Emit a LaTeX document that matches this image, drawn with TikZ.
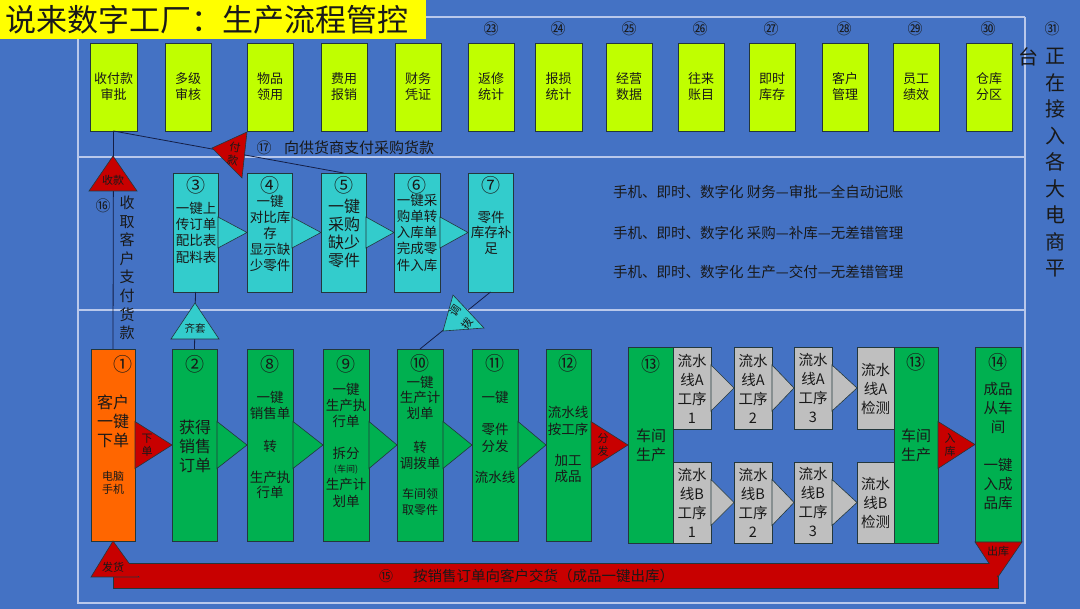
\documentclass[tikz,border=0pt]{standalone}
\usepackage{fontspec}
\setmainfont{Noto Sans CJK SC}
\definecolor{bg}{RGB}{68,114,196}
\definecolor{frm}{RGB}{185,200,235}
\definecolor{ygr}{RGB}{192,255,0}
\definecolor{cy}{RGB}{51,204,204}
\definecolor{gr}{RGB}{0,176,80}
\definecolor{org}{RGB}{255,102,0}
\definecolor{rd}{RGB}{200,0,0}
\definecolor{gy}{RGB}{191,191,191}
\definecolor{bdr}{RGB}{35,55,60}
\definecolor{ink}{RGB}{25,25,25}
\definecolor{ln}{RGB}{20,30,70}
\definecolor{ttl}{RGB}{255,255,0}
\newcommand\fs[2]{\fontsize{#1}{#2}\selectfont}
\newcommand\bx[6]{\node[box,fill=#2,minimum width={#5-#3},minimum height={#6-#4}] (#1) at (#3,#4) {};}
\newcommand\arr[4]{\filldraw[fill=#4,draw=bdr,line width=0.6pt] ([yshift=#3]#1.east) -- (#2.west) -- ([yshift=-#3]#1.east) -- cycle;}
\begin{document}
\begin{tikzpicture}[x=1pt,y=-1pt,
  box/.style={draw=bdr,line width=0.7pt,anchor=north west,inner sep=0pt,outer sep=0pt},
  t/.style={inner sep=0pt,align=center,text=ink},
  frame/.style={draw=frm,line width=1.2pt},
  conn/.style={draw=ln,line width=0.8pt},
  tri/.style={draw=bdr,line width=0.6pt}]
\useasboundingbox (0,0) rectangle (1080,609);
\fill[bg] (0,0) rectangle (1080,609);
% frame lines
\draw[frame] (426,17) -- (1025,17);
\draw[frame] (78,39) -- (78,603) -- (1025,603) -- (1025,17);
\draw[frame] (78,157) -- (1025,157);
\draw[frame] (78,310) -- (1025,310);
% title
\node[fill=ttl,anchor=north west,minimum width=426,minimum height=39,inner sep=0pt] (titlebox) at (0,0) {};
\node[t,anchor=west,font=\fs{31}{31}] (title) at (5,20) {说来数字工厂：生产流程管控};
% top boxes
\bx{y1}{ygr}{90}{43}{137}{131}
\bx{y2}{ygr}{165}{43}{211}{131}
\bx{y3}{ygr}{247}{43}{293}{131}
\bx{y4}{ygr}{321}{43}{367}{131}
\bx{y5}{ygr}{395}{43}{441}{131}
\bx{y6}{ygr}{468}{43}{514}{131}
\bx{y7}{ygr}{535}{43}{582}{131}
\bx{y8}{ygr}{606}{43}{652}{131}
\bx{y9}{ygr}{678}{43}{724}{131}
\bx{y10}{ygr}{749}{43}{795}{131}
\bx{y11}{ygr}{822}{43}{868}{131}
\bx{y12}{ygr}{893}{43}{939}{131}
\bx{y13}{ygr}{966}{43}{1012}{131}
\tikzset{tt/.style={t,font=\fs{13}{16}}}
\node[tt] (ly1) at (y1) {收付款\\审批};
\node[tt] (ly2) at (y2) {多级\\审核};
\node[tt] (ly3) at (y3) {物品\\领用};
\node[tt] (ly4) at (y4) {费用\\报销};
\node[tt] (ly5) at (y5) {财务\\凭证};
\node[tt] (ly6) at (y6) {返修\\统计};
\node[tt] (ly7) at (y7) {报损\\统计};
\node[tt] (ly8) at (y8) {经营\\数据};
\node[tt] (ly9) at (y9) {往来\\账目};
\node[tt] (ly10) at (y10) {即时\\库存};
\node[tt] (ly11) at (y11) {客户\\管理};
\node[tt] (ly12) at (y12) {员工\\绩效};
\node[tt] (ly13) at (y13) {仓库\\分区};
\tikzset{nt/.style={t,font=\fs{15}{15}}}
\node[nt] (n23) at (491,29) {㉓};
\node[nt] (n24) at (558,29) {㉔};
\node[nt] (n25) at (629,29) {㉕};
\node[nt] (n26) at (700,29) {㉖};
\node[nt] (n27) at (771,29) {㉗};
\node[nt] (n28) at (844,29) {㉘};
\node[nt] (n29) at (915,29) {㉙};
\node[nt] (n30) at (988,29) {㉚};
\node[nt] (n31) at (1052,29) {㉛};
\node[t,font=\fs{20}{26.5}] (rv) at (1055,163) {正\\在\\接\\入\\各\\大\\电\\商\\平};
\node[t,font=\fs{20}{20}] (rv2) at (1028,57) {台};
% middle cyan boxes
\bx{c3}{cy}{173}{173}{218}{292}
\bx{c4}{cy}{247}{173}{292}{292}
\bx{c5}{cy}{321}{173}{366}{292}
\bx{c6}{cy}{394}{173}{440}{292}
\bx{c7}{cy}{468}{173}{513}{292}
% bottom boxes
\bx{b1}{org}{91}{349}{135}{541}
\bx{b2}{gr}{172}{349}{217}{541}
\bx{b8}{gr}{247}{349}{293}{541}
\bx{b9}{gr}{323}{349}{369}{541}
\bx{b10}{gr}{397}{349}{443}{541}
\bx{b11}{gr}{472}{349}{518}{541}
\bx{b12}{gr}{546}{349}{591}{541}
\bx{b13}{gr}{628}{347}{673}{543}
\bx{ga1}{gy}{673}{347}{711}{429}
\bx{ga2}{gy}{734}{347}{772}{429}
\bx{ga3}{gy}{794}{347}{832}{429}
\bx{ga4}{gy}{857}{347}{894}{429}
\bx{gb1}{gy}{673}{462}{711}{543}
\bx{gb2}{gy}{734}{462}{772}{543}
\bx{gb3}{gy}{794}{462}{832}{543}
\bx{gb4}{gy}{857}{462}{894}{543}
\bx{b13r}{gr}{894}{347}{938}{543}
\bx{b14}{gr}{975}{347}{1021}{542}
% connectors
\draw[conn] (y1.south) -- (b1.north);
\draw[conn] (y1.south) -- (c5.north);
\draw[conn] (c3.south) -- (b2.north);
\draw[conn] (c7.south) -- (420,349);
% arrow triangles
\arr{c3}{c4}{15.5}{cy}
\arr{c4}{c5}{15.5}{cy}
\arr{c5}{c6}{15.5}{cy}
\arr{c6}{c7}{15.5}{cy}
\arr{b1}{b2}{23.5}{rd}
\arr{b2}{b8}{23.5}{gr}
\arr{b8}{b9}{23.5}{gr}
\arr{b9}{b10}{23.5}{gr}
\arr{b10}{b11}{23.5}{gr}
\arr{b11}{b12}{23.5}{gr}
\arr{b12}{b13}{23.5}{rd}
\arr{b13r}{b14}{23.5}{rd}
\arr{ga1}{ga2}{23}{gy}
\arr{ga2}{ga3}{23}{gy}
\arr{ga3}{ga4}{23}{gy}
\arr{gb1}{gb2}{23}{gy}
\arr{gb2}{gb3}{23}{gy}
\arr{gb3}{gb4}{23}{gy}
% labelled triangles
\filldraw[tri,fill=rd] (113,156) -- (137,191) -- (89,191) -- cycle;
\filldraw[tri,fill=rd] (212,148) -- (247,132) -- (242,178) -- cycle;
\filldraw[tri,fill=cy] (195,303) -- (219,339) -- (171,339) -- cycle;
\filldraw[tri,fill=cy] (453,295) -- (484,328) -- (443,331) -- cycle;
\filldraw[tri,fill=rd] (113,563) rectangle (998,588);
\filldraw[tri,fill=rd] (b1.south) -- (139,577) -- (91,577) -- cycle;
\filldraw[tri,fill=rd] (975,542) -- (1022,542) -- (998,577) -- cycle;
\fill[rd] (114,564) rectangle (997,576);
\tikzset{sm/.style={t,font=\fs{11}{13}}}
\node[sm] (tk1) at (113,180) {收款};
\node[sm,rotate=-10] (tk2) at (234,154) {付\\款};
\node[t,font=\fs{10.5}{10.5}] (tk3) at (195,328) {齐套};
\node[sm,rotate=55] (tk4a) at (455,311) {调};
\node[sm,rotate=55] (tk4b) at (467,324) {拨};
\node[sm] (tk5) at (147,445) {下\\单};
\node[sm] (tk6) at (603,445) {分\\发};
\node[sm] (tk7) at (950,445) {入\\库};
\node[sm] (tk8) at (113,567) {发货};
\node[sm] (tk9) at (998,551) {出库};
% side labels
\node[t,font=\fs{15}{15}] (n16) at (103,206) {⑯};
\node[t,font=\fs{15}{18.6}] (l16) at (127,268) {收\\取\\客\\户\\支\\付\\货\\款};
\node[t,font=\fs{15}{15}] (n17) at (264,148) {⑰};
\node[t,anchor=west,font=\fs{15}{15}] (l17) at (284,148) {向供货商支付采购货款};
\node[t,font=\fs{14}{14}] (n15) at (386,576) {⑮};
\node[t,anchor=west,font=\fs{14.5}{14.5}] (l15) at (413,576) {按销售订单向客户交货（成品一键出库）};
\tikzset{mt/.style={t,anchor=west,font=\fs{14.5}{14.5}}}
\node[mt] (m1) at (613,192) {手机、即时、数字化 财务—审批—全自动记账};
\node[mt] (m2) at (613,233) {手机、即时、数字化 采购—补库—无差错管理};
\node[mt] (m3) at (613,272) {手机、即时、数字化 生产—交付—无差错管理};
% cyan box texts
\tikzset{cn/.style={t,font=\fs{19}{19}}}
\node[cn] (nc3) at (196,185) {③};
\node[cn] (nc4) at (270,185) {④};
\node[cn] (nc5) at (344,185) {⑤};
\node[cn] (nc6) at (417,185) {⑥};
\node[cn] (nc7) at (491,185) {⑦};
\node[t,font=\fs{13.5}{16.3}] (tc3) at (196,232.5) {一键上\\传订单\\配比表\\配料表};
\node[t,font=\fs{13.5}{16}] (tc4) at (270,233) {一键\\对比库\\存\\显示缺\\少零件};
\node[t,font=\fs{16}{18.3}] (tc5) at (344,233.5) {一键\\采购\\缺少\\零件};
\node[t,font=\fs{13.5}{16.2}] (tc6) at (417,232.5) {一键采\\购单转\\入库单\\完成零\\件入库};
\node[t,font=\fs{13.5}{15.5}] (tc7) at (491,232.5) {零件\\库存补\\足};
% bottom box texts
\node[cn] (nb1) at (123,364) {①};
\node[cn] (nb2) at (195,364) {②};
\node[cn] (nb8) at (270,364) {⑧};
\node[cn] (nb9) at (346,364) {⑨};
\node[cn] (nb10) at (420,363) {⑩};
\node[cn] (nb11) at (495,363) {⑪};
\node[cn] (nb12) at (568,363) {⑫};
\node[cn] (nb13) at (651,364) {⑬};
\node[cn] (nb13r) at (916,362) {⑬};
\node[cn] (nb14) at (998,362) {⑭};
\node[t,font=\fs{16}{19}] (tb1) at (113,421) {客户\\一键\\下单};
\node[t,font=\fs{11}{13}] (tb1s) at (113,483) {电脑\\手机};
\node[t,font=\fs{16}{19}] (tb2) at (195,446) {获得\\销售\\订单};
\node[t,font=\fs{13.5}{15.5}] (tb8) at (270,445) {一键\\销售单\\[18pt]转\\[15pt]生产执\\行单};
\node[t,font=\fs{13.5}{16}] (tb9a) at (346,405) {一键\\生产执\\行单};
\node[t,font=\fs{13.5}{16}] (tb9b) at (346,453) {拆分};
\node[t,font=\fs{9}{9}] (tb9c) at (346,469.5) {(车间)};
\node[t,font=\fs{13.5}{16.5}] (tb9d) at (346,493) {生产计\\划单};
\node[t,font=\fs{13.5}{15.5}] (tb10a) at (420,397.5) {一键\\生产计\\划单};
\node[t,font=\fs{13.5}{16}] (tb10b) at (420,455) {转\\调拨单};
\node[t,font=\fs{12}{16}] (tb10c) at (420,502) {车间领\\取零件};
\node[t,font=\fs{13.5}{16}] (tb11a) at (495,397) {一键};
\node[t,font=\fs{13.5}{17}] (tb11b) at (495,437.5) {零件\\分发};
\node[t,font=\fs{13.5}{16}] (tb11c) at (495,477) {流水线};
\node[t,font=\fs{13.5}{17}] (tb12a) at (568,420.5) {流水线\\按工序};
\node[t,font=\fs{13.5}{16}] (tb12b) at (568,469) {加工\\成品};
\node[t,font=\fs{15}{19}] (tb13) at (651,445.5) {车间\\生产};
\node[t,font=\fs{15}{19}] (tb13r) at (916,445.5) {车间\\生产};
\node[t,font=\fs{14.5}{19}] (tb14a) at (998,408) {成品\\从车\\间};
\node[t,font=\fs{14.5}{19}] (tb14b) at (998,484) {一键\\入成\\品库};
% gray box texts
\tikzset{gt/.style={t,font=\fs{14.5}{19}}}
\node[gt] (tga1) at (692,388.5) {流水\\线A\\工序\\1};
\node[gt] (tga2) at (753,388.5) {流水\\线A\\工序\\2};
\node[gt] (tga3) at (813,388.5) {流水\\线A\\工序\\3};
\node[gt] (tga4) at (875.5,389) {流水\\线A\\检测};
\node[gt] (tgb1) at (692,502.5) {流水\\线B\\工序\\1};
\node[gt] (tgb2) at (753,502.5) {流水\\线B\\工序\\2};
\node[gt] (tgb3) at (813,502.5) {流水\\线B\\工序\\3};
\node[gt] (tgb4) at (875.5,503) {流水\\线B\\检测};
\end{tikzpicture}
\end{document}
